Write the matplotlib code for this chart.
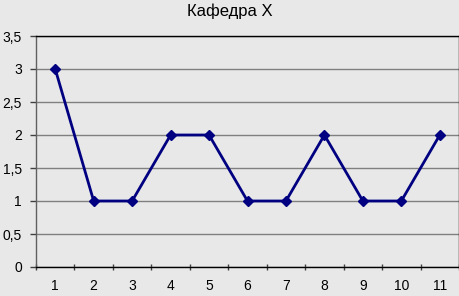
import matplotlib
matplotlib.use('Agg')
import matplotlib.pyplot as plt
import numpy as np

plt.rcParams['font.family'] = ['Liberation Sans', 'DejaVu Sans']

categories = [1, 2, 3, 4, 5, 6, 7, 8, 9, 10, 11]
values = [3, 1, 1, 2, 2, 1, 1, 2, 1, 1, 2]
y_ticks = [0, 0.5, 1, 1.5, 2, 2.5, 3, 3.5]
y_labels = ['0', '0,5', '1', '1,5', '2', '2,5', '3', '3,5']

bg = '#e8e8e8'
fig = plt.figure(figsize=(4.6, 2.96), dpi=100, facecolor=bg)
ax = fig.add_axes([36 / 460, 29 / 296, 423 / 460, 231 / 296], facecolor=bg)

x = np.arange(1, len(categories) + 1)
ax.plot(x, values, color='#000080', lw=2, marker='D', ms=5, zorder=3)

ax.set_xlim(0.5, len(categories) + 0.5)
ax.set_ylim(0, 3.5)
ax.set_yticks(y_ticks)
ax.set_yticklabels(y_labels)
ax.set_xticks(x)
ax.set_xticklabels([str(c) for c in categories])
ax.set_xticks(np.arange(0.5, len(categories) + 1, 1), minor=True)
ax.tick_params(axis='x', which='major', length=0, pad=9, labelsize=10, colors='black')
ax.tick_params(axis='x', which='minor', length=4, width=1, color='#404040', direction='inout')
ax.tick_params(axis='y', length=4, width=1, color='#404040', direction='out', pad=6, labelsize=10)

ax.yaxis.grid(True, color='#808080', lw=1)
ax.set_axisbelow(True)

ax.spines['left'].set_color('#606060')
ax.spines['bottom'].set_color('black')
ax.spines['top'].set_color('black')
ax.spines['right'].set_color('black')
for s in ax.spines.values():
  s.set_linewidth(1)

fig.text(230 / 460, 1 - 11 / 296, 'Кафедра X', ha='center', va='center', fontsize=12)

fig.savefig('out.png', dpi=100, facecolor=bg)
